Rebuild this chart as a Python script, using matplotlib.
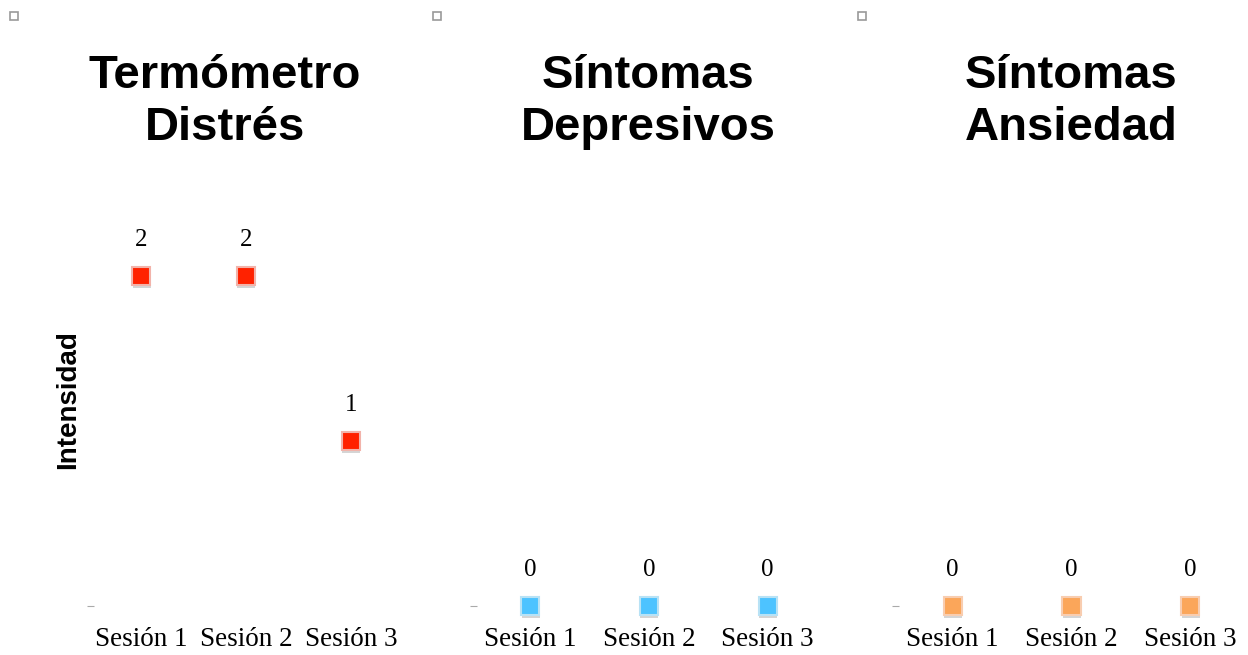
import matplotlib
matplotlib.use("Agg")
import matplotlib.pyplot as plt
import matplotlib.patheffects as pe
from matplotlib.lines import Line2D

# datos
sesiones = ["Sesión 1", "Sesión 2", "Sesión 3"]
distres = [2, 2, 1]
depresivos = [0, 0, 0]
ansiedad = [0, 0, 0]

titulos = ["Termómetro\nDistrés", "Síntomas\nDepresivos", "Síntomas\nAnsiedad"]
colores = ["#ff2200", "#4dc3ff", "#fba65a"]
bordes = ["#f2b3aa", "#b8e2f5", "#f8cdb0"]
series = [distres, depresivos, ansiedad]

W, H = 1248, 655
fig = plt.figure(figsize=(W / 100, H / 100), dpi=100)

# posiciones de los paneles en pixeles (izquierda, ancho)
paneles = [(94, 304), (477, 344), (899, 345)]
centros_titulo = [225, 648, 1071]
y_top, y_bot = 190, 620

serif = ["Liberation Serif", "DejaVu Serif"]
sans = ["Liberation Sans", "DejaVu Sans"]

for i, (left, width) in enumerate(paneles):
    ax = fig.add_axes([left / W, 1 - y_bot / H, width / W, (y_bot - y_top) / H])
    x = range(len(sesiones))
    ax.plot(x, series[i], linestyle="none", marker="s", markersize=13,
            markerfacecolor=colores[i], markeredgecolor=bordes[i], markeredgewidth=1.5,
            path_effects=[pe.SimplePatchShadow(offset=(0.3, -2), alpha=0.22, shadow_rgbFace="#444444"),
                          pe.Normal()])
    for xi, v in zip(x, series[i]):
        ax.annotate(str(v), (xi, v), xytext=(0, 26), textcoords="offset points",
                    ha="center", va="center", fontsize=18, family=serif)
    ax.set_xlim(-0.45, 2.45)
    ax.set_ylim(-14 / 165, (606 - y_top) / 165)
    ax.set_xticks(list(x))
    ax.set_xticklabels(sesiones, fontsize=19.5, family=serif)
    ax.tick_params(axis="x", length=0, pad=5)
    ax.set_yticks([0])
    ax.set_yticklabels([""])
    ax.tick_params(axis="y", length=5, width=0.8, color="#aaaaaa", direction="out")
    for s in ax.spines.values():
        s.set_visible(False)
    ax.patch.set_alpha(0)

    fig.text(centros_titulo[i] / W, 1 - 102 / H, titulos[i], ha="center", va="center",
             fontsize=34, fontweight="bold", family=sans, linespacing=1.25)

    # cuadrito de la esquina
    fig.add_artist(Line2D([[14, 437, 862][i] / W], [1 - 16 / H], marker="s", markersize=5.5,
                          markerfacecolor="white", markeredgecolor="#999999",
                          markeredgewidth=1.2, transform=fig.transFigure))

fig.text(68 / W, 1 - 400 / H, "Intensidad", rotation=90, ha="center", va="center",
         fontsize=20, fontweight="bold", family=sans)

fig.savefig("out.png", dpi=100)
